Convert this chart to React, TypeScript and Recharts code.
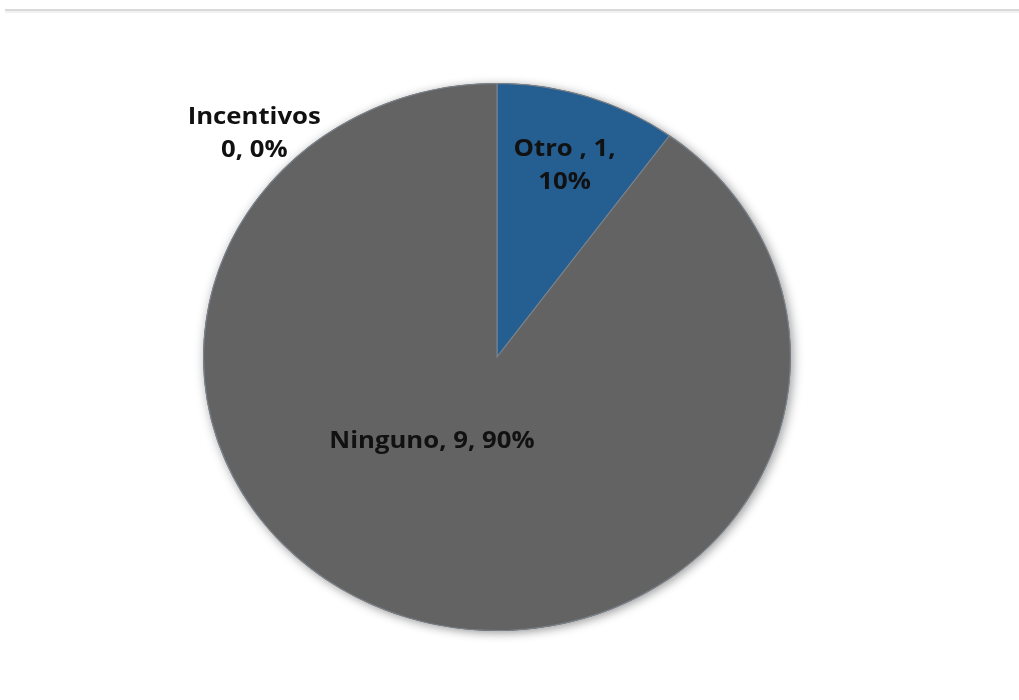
import React from 'react';
import { PieChart, Pie, Cell } from 'recharts';

// categories in drawing order (clockwise from 12 o'clock)
const categories = ['Otro ', 'Ninguno', 'Incentivos'];
const counts = [1, 9, 0];
const sliceColors = ['#255e91', '#636363', '#636363'];

// label placement relative to the slice mid angle (Excel "best fit" look)
const labelPlacement: Record<string, { ratio: number; shift: number; wrap: boolean }> = {
  'Otro ': { ratio: 0.745, shift: 0, wrap: true },
  Ninguno: { ratio: 0.372, shift: -18.6, wrap: false },
  Incentivos: { ratio: 1.17, shift: 45, wrap: true },
};

const total = counts.reduce((a, b) => a + b, 0);
const chartData = categories.map((name, i) => ({ name, value: counts[i] }));
const backdrop = [{ name: 'total', value: total }];

const RAD = Math.PI / 180;

const SliceLabel: React.FC<any> = (props) => {
  const { cx, cy, midAngle, outerRadius, index } = props;
  const name = categories[index];
  const value = counts[index];
  const pct = Math.round((value / total) * 100);
  const place = labelPlacement[name];
  const ang = (midAngle + place.shift) * RAD;
  const r = outerRadius * place.ratio;
  const x = cx + r * Math.cos(ang);
  const y = cy - r * Math.sin(ang);
  const lineHeight = 33;

  // Excel wraps "Otro , 1," differently from "Incentivos / 0, 0%"
  const lines = !place.wrap
    ? [`${name}, ${value}, ${pct}%`]
    : name === 'Incentivos'
      ? [name, `${value}, ${pct}%`]
      : [`${name}, ${value},`, `${pct}%`];

  const yOffset = ((lines.length - 1) * lineHeight) / 2;

  return (
    <text
      x={x}
      y={y - yOffset}
      textAnchor="middle"
      dominantBaseline="central"
      fill="#111111"
      fontSize={24}
      fontWeight={700}
      fontFamily="'Open Sans', sans-serif"
    >
      {lines.map((line, i) => (
        <tspan key={i} x={x} dy={i === 0 ? 0 : lineHeight}>
          {line}
        </tspan>
      ))}
    </text>
  );
};

export default function App() {
  return (
    <div style={{ position: 'absolute', left: 0, top: 0, width: 1019, height: 700, background: '#ffffff', overflow: 'hidden' }}>
      <div style={{ position: 'absolute', left: 5, right: 0, top: 9, height: 2, background: '#d9d9d9' }} />
      <div style={{ position: 'absolute', left: 5, right: 0, top: 11, height: 2, background: '#f2f2f2' }} />
      <div style={{ position: 'absolute', left: 0, top: 0, width: 950, height: 700, transform: 'scaleX(1.0727)', transformOrigin: '0 0' }}>
        <PieChart width={950} height={700} margin={{ top: 0, right: 0, bottom: 0, left: 0 }}>
          <defs>
            <filter id="pieShadow" x="-10%" y="-10%" width="120%" height="120%">
              <feDropShadow dx="2" dy="2" stdDeviation="5" floodColor="#000000" floodOpacity="0.4" />
            </filter>
          </defs>
          <Pie
            data={backdrop}
            dataKey="value"
            cx={463.3}
            cy={357}
            outerRadius={274}
            startAngle={90}
            endAngle={-270}
            stroke="none"
            isAnimationActive={false}
          >
            <Cell fill="#636363" filter="url(#pieShadow)" />
          </Pie>
          <Pie
            data={chartData}
            dataKey="value"
            nameKey="name"
            cx={463.3}
            cy={357}
            outerRadius={273.5}
            startAngle={90}
            endAngle={-270}
            stroke="#7b838c"
            strokeWidth={1}
            label={<SliceLabel />}
            labelLine={false}
            isAnimationActive={false}
          >
            {chartData.map((d, i) => (
              <Cell key={d.name} fill={sliceColors[i]} />
            ))}
          </Pie>
        </PieChart>
      </div>
    </div>
  );
}
